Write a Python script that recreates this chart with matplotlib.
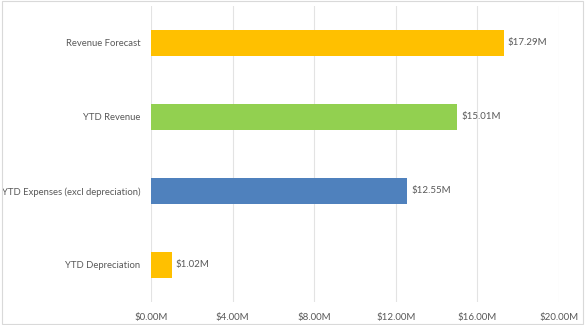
import matplotlib
matplotlib.use('Agg')
import matplotlib.pyplot as plt
from matplotlib.patches import Rectangle

categories = ['YTD Depreciation', 'YTD Expenses (excl depreciation)', 'YTD Revenue', 'Revenue Forecast']
values = [1.02, 12.55, 15.01, 17.29]
colors = ['#FFC000', '#4F81BD', '#92D050', '#FFC000']
xticks = [0, 4, 8, 12, 16, 20]

TEXT = '#595959'
GRID = '#E3E3E3'

plt.rcParams['font.family'] = ['Lato', 'DejaVu Sans']

fig = plt.figure(figsize=(5.85, 3.25), dpi=100, facecolor='white')
ax = fig.add_axes([151/585, 1 - 302/325, 408/585, 296/325])

ax.barh(range(len(categories)), values, height=0.35, color=colors, zorder=3)
for i, v in enumerate(values):
    ax.text(v + 0.2, i, f'${v:.2f}M', va='center', ha='left',
            fontsize=7, color=TEXT)

ax.set_xlim(0, 20)
ax.set_ylim(-0.5, len(categories) - 0.5)
ax.set_xticks(xticks)
ax.set_xticklabels([f'${t:.2f}M' for t in xticks])
ax.set_yticks(range(len(categories)))
ax.set_yticklabels(categories, fontsize=6.8)
ax.tick_params(axis='both', length=0, labelcolor=TEXT)
ax.tick_params(axis='x', pad=8, labelsize=7)
ax.tick_params(axis='y', pad=7.5)
ax.grid(axis='x', color=GRID, linewidth=0.8, zorder=0)
for s in ax.spines.values():
    s.set_visible(False)

# outer chart border
fig.patches.append(Rectangle((0.003, 0.003), 0.994, 0.994, transform=fig.transFigure,
                             fill=False, edgecolor='#D9D9D9', linewidth=0.8))

fig.savefig('out.png', dpi=100)
